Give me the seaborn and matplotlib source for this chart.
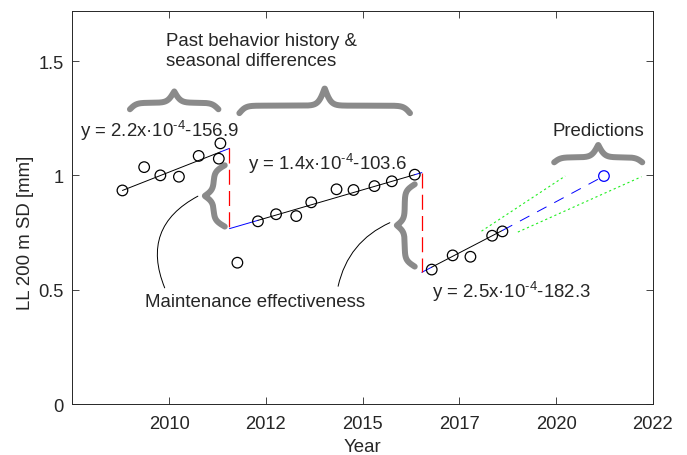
import numpy as np
import matplotlib
matplotlib.use("Agg")
import matplotlib.pyplot as plt
import pandas as pd
import seaborn as sns

# measured track geometry (x in fractional years, y in mm)
hist1_year = [2009.12, 2009.67, 2010.08, 2010.55, 2011.05, 2011.56, 2011.60]
hist1_sd = [0.934, 1.036, 1.000, 0.994, 1.085, 1.073, 1.140]
hist2_year = [2012.03, 2012.55, 2013.01, 2013.52, 2013.90, 2014.54, 2014.97, 2015.50, 2015.94, 2016.52]
hist2_sd = [0.618, 0.799, 0.830, 0.822, 0.882, 0.939, 0.936, 0.953, 0.974, 1.003]
hist3_year = [2016.95, 2017.48, 2017.93, 2018.48, 2018.74]
hist3_sd = [0.588, 0.650, 0.644, 0.736, 0.755]

# linear fits, from start to end of each period
fit1_year = [2009.12, 2011.83]
fit1_sd = [0.934, 1.118]
fit2_year = [2011.83, 2016.70]
fit2_sd = [0.767, 1.012]
fit3_year = [2016.70, 2018.75]
fit3_sd = [0.576, 0.760]
fit_labels = ["y = 2.2x·10$^{\\text{-4}}$-156.9",
              "y = 1.4x·10$^{\\text{-4}}$-103.6",
              "y = 2.5x·10$^{\\text{-4}}$-182.3"]

# maintenance jumps
jump_year = [2011.83, 2016.70]
jump_top = [1.118, 1.012]
jump_bottom = [0.767, 0.576]

# prediction
pred_year = [2018.75, 2021.31]
pred_sd = [0.760, 0.997]
upper_year = [2018.21, 2020.33]
upper_sd = [0.756, 0.997]
lower_year = [2019.13, 2022.26]
lower_sd = [0.752, 0.994]

tick_pos = [2010.3, 2012.75, 2015.2, 2017.65, 2020.1, 2022.55]
tick_labels = ["2010", "2012", "2015", "2017", "2020", "2022"]

sns.set_style("ticks")
plt.rcParams['font.family'] = ['Liberation Sans', 'DejaVu Sans']
plt.rcParams['mathtext.fontset'] = 'custom'
plt.rcParams['mathtext.rm'] = 'Liberation Sans'
plt.rcParams['mathtext.it'] = 'Liberation Sans:italic'
txt_col = '#262626'
gray = '#8a8a8a'
fs = 13.4

fig = plt.figure(figsize=(6.87, 4.56), dpi=100)
ax = fig.add_axes([0.1052, 0.1118, 0.8452, 0.8625])
ax.set_xlim(2007.85, 2022.55)
ax.set_ylim(0, 1.72)

# fitted lines: black over the data, blue where extended to the jumps
for fx, fy, data_x in [(fit1_year, fit1_sd, hist1_year),
                       (fit2_year, fit2_sd, hist2_year[1:]),
                       (fit3_year, fit3_sd, hist3_year)]:
    lo, hi = min(data_x), max(data_x)
    for seg, col in [([fx[0], lo], 'blue'), ([lo, hi], 'black'), ([hi, fx[1]], 'blue')]:
        if seg[1] - seg[0] <= 0:
            continue
        sns.lineplot(x=seg, y=np.interp(seg, fx, fy), ax=ax, color=col, lw=0.7,
                     estimator=None, sort=False)

for jx, jt, jb in zip(jump_year, jump_top, jump_bottom):
    ax.plot([jx, jx], [jt, jb], color='#ff0000', lw=0.9, linestyle=(0, (12, 5)),
            zorder=5, solid_capstyle='butt')

sns.lineplot(x=pred_year, y=pred_sd, ax=ax, color='blue', lw=0.7,
             linestyle=(0, (11, 9)), estimator=None, sort=False)
sns.lineplot(x=upper_year, y=upper_sd, ax=ax, color='#22ee22', lw=0.8,
             linestyle=(0, (2, 2.5)), estimator=None, sort=False)
sns.lineplot(x=lower_year, y=lower_sd, ax=ax, color='#22ee22', lw=0.8,
             linestyle=(0, (2, 2.5)), estimator=None, sort=False)

pts = pd.DataFrame({'year': hist1_year + hist2_year + hist3_year,
                    'sd': hist1_sd + hist2_sd + hist3_sd})
sns.scatterplot(data=pts, x='year', y='sd', ax=ax, marker='o', s=58, color='black', zorder=4)
ax.collections[-1].set_facecolor('none')
ax.collections[-1].set_edgecolor('black')
ax.collections[-1].set_linewidth(0.9)
sns.scatterplot(x=[pred_year[-1]], y=[pred_sd[-1]], ax=ax, marker='o', s=58, color='blue', zorder=4)
ax.collections[-1].set_facecolor('none')
ax.collections[-1].set_edgecolor('blue')
ax.collections[-1].set_linewidth(0.9)


def brace(p0, p1, arm, tip, w=3.2):
    # curly brace from p0 to p1 (data), pointing to the left of p0->p1; arm/tip in px
    pa, pb = ax.transData.transform([p0, p1])
    L = np.hypot(*(pb - pa))
    u = (pb - pa) / L
    n = np.array([-u[1], u[0]])
    s = np.linspace(0, L, 500)
    sh = np.minimum(s, L - s)
    sig = lambda z: 1 / (1 + np.exp(-z))
    f = 2 * arm * (sig(sh / w) - 0.5) + 2 * tip * sig((sh - L / 2) / w)
    xy = pa + np.outer(s, u) + np.outer(f, n)
    d = ax.transData.inverted().transform(xy)
    ax.plot(d[:, 0], d[:, 1], color=gray, lw=4.3, solid_capstyle='round', zorder=2)


brace((2009.31, 1.289), (2011.55, 1.289), 6.5, 11.5)
brace((2012.08, 1.272), (2016.40, 1.272), 7.5, 17.5)
brace((2020.05, 1.057), (2022.28, 1.057), 5, 12.5)
brace((2011.71, 0.776), (2011.71, 1.044), 11, 9)
brace((2016.52, 0.601), (2016.52, 0.961), 10, 8)

# callout curves
ax.annotate("", xy=(2011.03, 0.909), xytext=(2010.19, 0.508),
            arrowprops=dict(arrowstyle='-', color='black', lw=0.7,
                            connectionstyle='arc3,rad=-0.45', shrinkA=0, shrinkB=0))
ax.annotate("", xy=(2015.89, 0.793), xytext=(2014.58, 0.515),
            arrowprops=dict(arrowstyle='-', color='black', lw=0.7,
                            connectionstyle='arc3,rad=-0.25', shrinkA=0, shrinkB=0))

kw = dict(fontsize=fs, color=txt_col, ha='center', va='center')
ax.text(2010.06, 1.197, fit_labels[0], **kw)
ax.text(2014.32, 1.053, fit_labels[1], **kw)
ax.text(2018.97, 0.493, fit_labels[2], **kw)
ax.text(2021.18, 1.198, "Predictions", **kw)
ax.text(2012.49, 0.449, "Maintenance effectiveness", **kw)
ax.text(2010.22, 1.547, "Past behavior history &\nseasonal differences", fontsize=fs,
        color=txt_col, ha='left', va='center', linespacing=1.25)

ax.set_xticks(tick_pos, tick_labels)
ax.set_yticks([0, 0.5, 1, 1.5], ['0', '0.5', '1', '1.5'])
ax.tick_params(direction='in', length=4.8, width=0.6, top=True, right=True,
               labelsize=13.2, colors=txt_col, pad=6)
ax.tick_params(axis='x', pad=8)
for sp in ax.spines.values():
    sp.set_visible(True)
    sp.set_linewidth(0.7)
    sp.set_color(txt_col)

ax.set_xlabel("Year", fontsize=13.4, color=txt_col, labelpad=4)
ax.set_ylabel("LL 200 m SD [mm]", fontsize=13.4, color=txt_col)
ax.yaxis.set_label_coords(-0.066, 0.437)

fig.savefig("out.png", dpi=100)
